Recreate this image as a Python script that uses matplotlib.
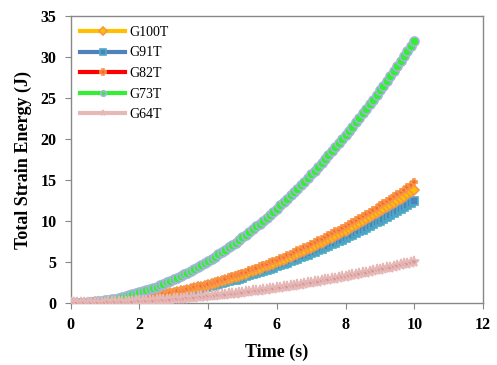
import numpy as np
import matplotlib
matplotlib.use("Agg")
import matplotlib.pyplot as plt

time = np.round(np.arange(0, 101) * 0.1, 1)

g100t = [0, 0.00, 0.01, 0.01, 0.02, 0.03, 0.05, 0.07, 0.09, 0.11, 0.14, 0.17, 0.20, 0.23, 0.27, 0.31, 0.35, 0.40, 0.45, 0.50,
         0.55, 0.61, 0.67, 0.73, 0.79, 0.86, 0.93, 1.01, 1.08, 1.16, 1.24, 1.33, 1.41, 1.50, 1.60, 1.69, 1.79, 1.89, 1.99, 2.10,
         2.21, 2.32, 2.43, 2.55, 2.67, 2.79, 2.92, 3.05, 3.18, 3.31, 3.45, 3.59, 3.73, 3.88, 4.02, 4.17, 4.33, 4.48, 4.64, 4.80,
         4.97, 5.13, 5.30, 5.48, 5.65, 5.83, 6.01, 6.19, 6.38, 6.57, 6.76, 6.96, 7.15, 7.35, 7.56, 7.76, 7.97, 8.18, 8.40, 8.61,
         8.83, 9.05, 9.28, 9.51, 9.74, 9.97, 10.21, 10.45, 10.69, 10.93, 11.18, 11.43, 11.68, 11.94, 12.19, 12.45, 12.72, 12.98, 13.25, 13.53,
         13.80]
g91t = [0, 0.00, 0.00, 0.01, 0.02, 0.03, 0.04, 0.06, 0.08, 0.10, 0.12, 0.15, 0.18, 0.21, 0.24, 0.28, 0.32, 0.36, 0.40, 0.45,
        0.50, 0.55, 0.60, 0.66, 0.71, 0.78, 0.84, 0.90, 0.97, 1.04, 1.12, 1.19, 1.27, 1.35, 1.43, 1.52, 1.61, 1.70, 1.79, 1.89,
        1.98, 2.08, 2.19, 2.29, 2.40, 2.51, 2.62, 2.74, 2.86, 2.98, 3.10, 3.23, 3.35, 3.48, 3.62, 3.75, 3.89, 4.03, 4.17, 4.32,
        4.46, 4.61, 4.77, 4.92, 5.08, 5.24, 5.40, 5.57, 5.73, 5.90, 6.08, 6.25, 6.43, 6.61, 6.79, 6.98, 7.16, 7.35, 7.54, 7.74,
        7.94, 8.14, 8.34, 8.54, 8.75, 8.96, 9.17, 9.39, 9.60, 9.82, 10.04, 10.27, 10.50, 10.72, 10.96, 11.19, 11.43, 11.67, 11.91, 12.15,
        12.40]
g82t = [0, 0.00, 0.01, 0.01, 0.02, 0.04, 0.05, 0.07, 0.09, 0.12, 0.15, 0.18, 0.21, 0.25, 0.29, 0.33, 0.38, 0.42, 0.48, 0.53,
        0.59, 0.65, 0.71, 0.78, 0.85, 0.92, 0.99, 1.07, 1.15, 1.24, 1.32, 1.41, 1.51, 1.60, 1.70, 1.80, 1.91, 2.01, 2.12, 2.24,
        2.35, 2.47, 2.59, 2.72, 2.85, 2.98, 3.11, 3.25, 3.39, 3.53, 3.68, 3.82, 3.97, 4.13, 4.29, 4.45, 4.61, 4.78, 4.95, 5.12,
        5.29, 5.47, 5.65, 5.83, 6.02, 6.21, 6.40, 6.60, 6.80, 7.00, 7.20, 7.41, 7.62, 7.83, 8.05, 8.27, 8.49, 8.72, 8.94, 9.17,
        9.41, 9.64, 9.88, 10.13, 10.37, 10.62, 10.87, 11.13, 11.38, 11.64, 11.91, 12.17, 12.44, 12.71, 12.99, 13.27, 13.55, 13.83, 14.12, 14.41,
        14.70]
g73t = [0, 0.00, 0.01, 0.03, 0.05, 0.08, 0.12, 0.16, 0.20, 0.26, 0.32, 0.39, 0.46, 0.54, 0.63, 0.72, 0.82, 0.92, 1.04, 1.16,
        1.28, 1.41, 1.55, 1.69, 1.84, 2.00, 2.16, 2.33, 2.51, 2.69, 2.88, 3.08, 3.28, 3.48, 3.70, 3.92, 4.15, 4.38, 4.62, 4.87,
        5.12, 5.38, 5.64, 5.92, 6.20, 6.48, 6.77, 7.07, 7.37, 7.68, 8.00, 8.32, 8.65, 8.99, 9.33, 9.68, 10.04, 10.40, 10.76, 11.14,
        11.52, 11.91, 12.30, 12.70, 13.11, 13.52, 13.94, 14.36, 14.80, 15.24, 15.68, 16.13, 16.59, 17.05, 17.52, 18.00, 18.48, 18.97, 19.47, 19.97,
        20.48, 21.00, 21.52, 22.04, 22.58, 23.12, 23.67, 24.22, 24.78, 25.35, 25.92, 26.50, 27.08, 27.68, 28.28, 28.88, 29.49, 30.11, 30.73, 31.36,
        32.00]
g64t = [0, 0.00, 0.00, 0.00, 0.01, 0.01, 0.02, 0.02, 0.03, 0.04, 0.05, 0.06, 0.07, 0.08, 0.10, 0.11, 0.13, 0.14, 0.16, 0.18,
        0.20, 0.22, 0.24, 0.26, 0.29, 0.31, 0.34, 0.36, 0.39, 0.42, 0.45, 0.48, 0.51, 0.54, 0.58, 0.61, 0.65, 0.68, 0.72, 0.76,
        0.80, 0.84, 0.88, 0.92, 0.97, 1.01, 1.06, 1.10, 1.15, 1.20, 1.25, 1.30, 1.35, 1.40, 1.46, 1.51, 1.57, 1.62, 1.68, 1.74,
        1.80, 1.86, 1.92, 1.98, 2.05, 2.11, 2.18, 2.24, 2.31, 2.38, 2.45, 2.52, 2.59, 2.66, 2.74, 2.81, 2.89, 2.96, 3.04, 3.12,
        3.20, 3.28, 3.36, 3.44, 3.53, 3.61, 3.70, 3.78, 3.87, 3.96, 4.05, 4.14, 4.23, 4.32, 4.42, 4.51, 4.61, 4.70, 4.80, 4.90,
        5.00]

labels = ["G100T", "G91T", "G82T", "G73T", "G64T"]
series = [g100t, g91t, g82t, g73t, g64t]
styles = [
    dict(color="#ffc000", marker="D", ms=5, mfc="#ffc000", mec="#f79646", zorder=3),
    dict(color="#4f81bd", marker="s", ms=6, mfc="#4f81bd", mec="#4bacc6", zorder=2),
    dict(color="#ff0000", marker="P", ms=5, mfc="#ff0000", mec="#f79646", zorder=4),
    dict(color="#33ee33", marker="o", ms=6.5, mfc="#33ee33", mec="#a6b4dc", zorder=5),
    dict(color="#e6b9b8", marker="*", ms=8, mfc="#d99694", mec="#e6b9b8", zorder=6),
]

fig = plt.figure(figsize=(4.97, 3.65), dpi=100)
ax = fig.add_axes([0.142, 0.170, 0.830, 0.786])

for lab, ys, st in zip(labels, series, styles):
    ax.plot(time, ys, label=lab, lw=2.5, mew=1.2, **st)

ax.set_xlim(0, 12)
ax.set_ylim(0, 35)
ax.set_xticks(np.arange(0, 13, 2))
ax.set_yticks(np.arange(0, 36, 5))

serif = "Liberation Serif"
for lbl in ax.get_xticklabels() + ax.get_yticklabels():
    lbl.set_fontfamily(serif)
    lbl.set_fontweight("bold")
    lbl.set_fontsize(11.5)
ax.set_xlabel("Time (s)", fontfamily=serif, fontweight="bold", fontsize=13, labelpad=8)
ax.set_ylabel("Total Strain Energy (J)", fontfamily=serif, fontweight="bold", fontsize=13, labelpad=6)

for sp in ax.spines.values():
    sp.set_color("#888888")
    sp.set_linewidth(1.0)
ax.tick_params(direction="out", length=4, color="#888888", pad=6)

leg = ax.legend(loc="upper left", frameon=False, prop=dict(family=serif, size=10),
                handlelength=3.2, labelspacing=0.55, borderaxespad=0.3, borderpad=0.4,
                handletextpad=0.3)
for h in leg.legend_handles:
    h.set_markersize(4)
    h.set_linewidth(3)

fig.savefig("out.png", dpi=100)
